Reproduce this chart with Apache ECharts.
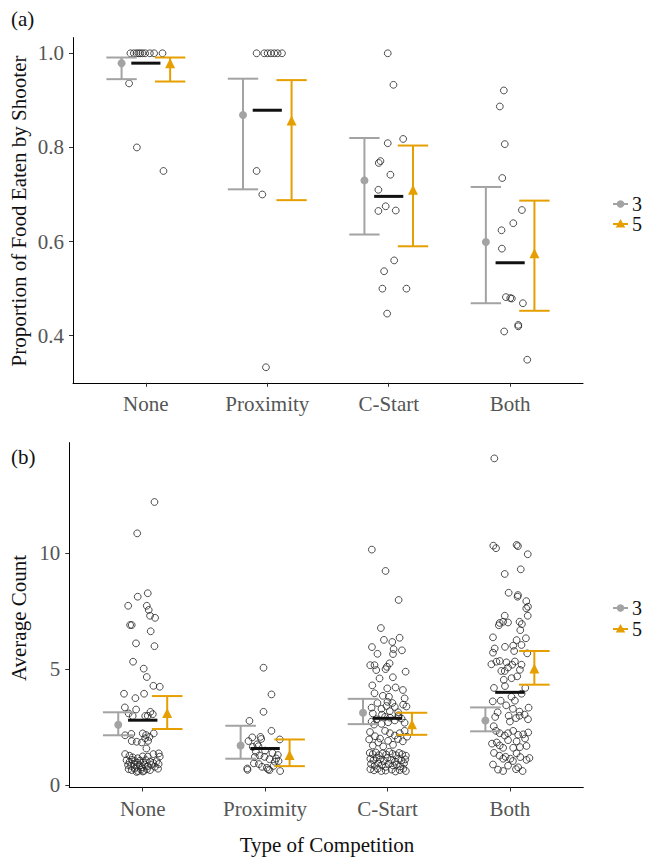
<!DOCTYPE html>
<html><head><meta charset="utf-8">
<script src="https://cdn.jsdelivr.net/npm/echarts@6/dist/echarts.min.js"></script>
<style>html,body{margin:0;padding:0;background:#fff}#c{width:645px;height:857px}
#c text{font-family:'Liberation Serif',serif !important}</style>
</head><body><div id="c"></div>
<script>
// ---------- data ----------
const categories = ['None', 'Proximity', 'C-Start', 'Both'];
const groupNames = ['3', '5'];
const propTicks = [0.4, 0.6, 0.8, 1.0];
const countTicks = [0, 5, 10];
const propTitle = 'Proportion of Food Eaten by Shooter';
const countTitle = 'Average Count';
const xTitle = 'Type of Competition';

// Panel (a): proportion of food eaten by shooter
const propMean3 = [0.979, 0.869, 0.730, 0.599];
const propLow3  = [0.945, 0.711, 0.615, 0.469];
const propHigh3 = [0.991, 0.946, 0.820, 0.716];
const propMean5 = [0.979, 0.857, 0.710, 0.575];
const propLow5  = [0.940, 0.688, 0.590, 0.453];
const propHigh5 = [0.991, 0.943, 0.804, 0.687];
const propMedian = [0.979, 0.879, 0.696, 0.555];
const propPoints = [
  [0.873,1],[0.901,1],[0.923,1],[0.939,1],[0.955,1],[0.972,1],[0.994,1],[1.033,1],[1.068,1],[1.137,1],
  [0.862,0.936],[0.926,0.8],[1.145,0.75],
  [1.912,1],[1.975,1],[2.003,1],[2.030,1],[2.058,1],[2.085,1],[2.121,1],[1.912,0.75],[1.959,0.70],[1.989,0.333],
  [2.992,1.0],[3.039,0.933],[3.119,0.818],[2.992,0.809],[2.932,0.771],[2.918,0.767],[3.014,0.742],[2.915,0.710],
  [2.915,0.665],[2.975,0.675],[3.058,0.666],[3.045,0.560],[2.962,0.537],[2.948,0.500],[3.146,0.500],[2.987,0.447],
  [3.948,0.921],[3.915,0.887],[3.956,0.807],[3.935,0.735],[4.097,0.667],[4.026,0.639],[3.929,0.624],[3.932,0.585],
  [3.965,0.482],[4.001,0.480],[4.014,0.479],[4.105,0.469],[4.067,0.423],[4.067,0.420],[3.951,0.409],[4.141,0.349]
];

// Panel (b): average count
const countMean3 = [2.61, 1.72, 3.13, 2.80];
const countLow3  = [2.16, 1.15, 2.64, 2.33];
const countHigh3 = [3.15, 2.57, 3.73, 3.36];
const countMean5 = [3.12, 1.31, 2.64, 5.04];
const countLow5  = [2.43, 0.83, 2.18, 4.34];
const countHigh5 = [3.85, 1.98, 3.13, 5.79];
const countMedian = [2.81, 1.59, 2.89, 4.01];
const countNone = [
  [1.096,12.21],[0.955,10.86],[1.041,8.28],[0.959,8.13],[0.881,7.74],[1.033,7.74],[1.049,7.56],[1.060,7.31],[1.101,7.22],
  [0.897,6.91],[0.910,6.91],[1.065,6.64],[0.945,6.12],[1.096,6.00],[0.921,5.33],[1.008,5.03],[1.033,4.67],[1.087,4.29],
  [1.139,4.25],[0.847,3.95],[1.011,3.95],[0.940,3.76],[0.854,3.36],[0.946,3.27],[0.885,3.10],[0.918,2.99],[1.063,3.17],
  [1.082,3.07],[1.041,3.00],[1.020,2.99],
  [0.856,2.16],[0.907,2.22],[1.000,2.24],[1.027,2.17],[1.090,2.24],[1.055,2.09],[1.020,2.03],[0.910,1.91],[0.951,1.88],
  [0.992,1.85],[1.044,1.92],[1.030,1.59],
  [0.856,1.35],[0.891,1.28],[0.918,1.21],[0.959,1.17],[1.000,1.25],[1.041,1.24],[1.087,1.35],[1.131,1.38],[1.139,1.24],
  [0.868,1.08],[0.893,1.02],[0.912,1.10],[0.935,1.05],[0.958,0.98],[0.980,1.07],[1.003,1.00],[1.025,1.09],[1.060,1.03],
  [1.085,0.97],[1.115,1.05],[1.130,0.92],[0.880,0.88],[0.905,0.84],[0.930,0.90],[0.950,0.80],[0.975,0.86],[0.995,0.78],
  [1.015,0.90],[1.040,0.83],[1.070,0.88],[1.100,0.80],[0.885,0.70],[0.910,0.66],[0.935,0.72],[0.960,0.62],[0.985,0.68],
  [1.010,0.63],[1.035,0.70],[1.060,0.66],[1.125,0.72],[1.000,0.60],[0.950,0.58]
];
const countProximity = [
  [1.987,5.07],[2.052,3.92],[1.987,3.17],[1.872,2.78],[2.052,2.35],[1.895,2.07],[1.962,2.09],[1.864,1.91],[1.935,1.77],
  [1.968,2.00],[2.120,1.98],[1.899,1.66],[1.946,1.69],[1.925,1.45],[2.000,1.50],[2.060,1.40],
  [1.916,1.23],[1.954,1.29],[1.995,1.23],[2.036,1.13],[2.104,1.31],[2.091,1.16],[2.079,1.02],[2.110,1.05],[1.975,0.80],
  [1.908,0.95],[1.949,0.92],[1.854,0.73],[1.856,0.67],[2.014,0.76],[2.036,0.66],[2.025,0.69],[2.069,0.84],[2.123,0.62]
];
const countCStart = [
  [2.872,10.16],[2.984,9.24],[3.091,7.99],[2.946,6.78],[2.971,6.27],[3.039,6.18],[3.099,6.36],[2.873,5.96],[2.918,5.67],
  [3.050,5.87],[3.045,5.66],[3.118,5.82],
  [2.859,5.18],[2.894,5.18],[2.908,4.97],[2.935,4.61],[2.984,5.01],[2.995,5.11],[3.017,5.26],[3.044,4.66],[3.148,4.90],
  [2.876,4.31],[2.894,3.97],[2.998,4.18],[3.012,3.82],[3.066,4.22],[3.126,4.11],[3.140,3.75],[2.962,3.86],
  [2.918,3.55],[2.951,3.30],[2.992,3.42],[3.019,3.20],[3.060,3.38],[3.087,3.15],[3.128,3.48],[3.155,3.40],[2.880,3.10],
  [2.955,3.05],[3.090,3.02],[2.870,3.35],[3.000,3.60],[3.040,3.55],
  [2.870,2.75],[2.910,2.85],[2.951,2.65],[3.005,2.72],[3.060,2.80],[3.115,2.88],[3.020,2.92],[3.090,2.95],[2.980,2.95],
  [2.890,2.62],[3.140,2.70],
  [2.857,2.30],[2.898,2.12],[2.939,2.02],[2.980,2.35],[3.020,2.25],[3.060,2.15],[3.100,2.25],[3.140,2.35],[2.850,1.98],
  [2.925,1.85],[3.005,1.92],[3.085,2.00],[3.125,1.90],[2.965,1.68],[3.045,1.75],[2.880,1.72],[3.160,2.10],
  [2.855,1.40],[2.880,1.35],[2.905,1.42],[2.930,1.30],[2.960,1.38],[2.990,1.33],[3.015,1.45],[3.040,1.36],[3.070,1.30],
  [3.095,1.40],[3.120,1.34],[3.150,1.28],
  [2.860,1.15],[2.885,1.08],[2.910,1.20],[2.940,1.12],[2.970,1.05],[3.000,1.18],[3.030,1.10],[3.060,1.02],[3.090,1.15],
  [3.115,1.07],[3.145,1.12],
  [2.865,0.92],[2.895,0.85],[2.925,0.95],[2.955,0.88],[2.985,0.80],[3.010,0.93],[3.045,0.86],[3.075,0.90],[3.105,0.82],
  [3.135,0.95],
  [2.860,0.70],[2.890,0.65],[2.920,0.72],[2.950,0.62],[3.035,0.68],[3.065,0.60],[3.100,0.66],[3.130,0.72],[3.150,0.62],
  [2.985,0.64]
];
const countBoth = [
  [3.873,14.09],[3.865,10.33],[3.887,10.22],[4.055,10.36],[4.066,10.31],[4.146,9.96],[3.958,9.11],[4.089,9.31],[3.990,8.30],
  [4.066,8.20],[4.063,8.13],[4.134,7.94],[4.148,7.70],[4.134,7.63],[3.958,7.31],[4.146,7.31],
  [3.917,7.00],[3.945,7.05],[3.985,7.02],[3.910,6.90],[4.079,7.05],[4.098,6.95],[4.085,6.69],[3.862,6.38],
  [3.960,5.97],[4.027,6.02],[4.055,6.26],[4.131,6.34],[4.035,5.79],[4.095,6.05],[4.142,5.69],
  [3.876,5.90],[3.862,5.72],[3.917,5.36],[3.890,5.33],[3.849,5.22],
  [3.972,5.30],[4.019,5.20],[4.041,5.34],[4.082,4.98],[4.060,4.70],[4.014,4.62],[3.958,4.93],[3.930,4.93],[3.985,5.08],[4.095,5.20],
  [3.950,4.55],[3.870,4.20],[3.960,4.28],[3.925,3.65],[4.013,3.82],[4.041,3.65],[4.096,3.95],[4.126,4.20],
  [3.860,3.62],[3.970,3.45],[4.025,3.30],[4.153,3.35],[4.079,3.18],[4.120,3.05],[4.148,2.85],[3.990,3.00],[3.900,3.15],
  [3.880,2.95],[4.000,2.75],[4.050,2.90],[4.079,3.00],
  [3.868,2.55],[3.887,2.35],[3.917,2.25],[3.985,2.25],[4.027,2.35],[4.068,2.18],[4.109,2.20],[4.150,2.28],[3.958,2.15],
  [3.854,1.80],[3.893,1.85],[3.917,1.72],[3.985,1.95],[4.055,1.90],[4.124,2.02],[3.945,1.62],[4.027,1.62],[4.082,1.65],[4.136,1.70],
  [3.870,1.40],[3.915,1.28],[3.965,1.23],[4.005,1.15],[4.055,1.38],[4.085,1.22],[4.136,1.10],[4.160,1.18],[3.945,1.15],[4.025,1.05],
  [3.862,0.90],[3.903,0.68],[3.945,0.62],[3.985,0.85],[4.068,0.78],[4.104,0.62],[4.050,0.70]
];

// ---------- styling ----------
const FONT = 'Liberation Serif';
const FONT21 = "21px 'Liberation Serif', serif";
const FONT20 = "20px 'Liberation Serif', serif";
const GREY = '#a3a3a3';
const ORANGE = '#E69F00';
const DODGE = 0.2, CAP = 0.125, MED = 0.12;

const chart = echarts.init(document.getElementById('c'), null, {renderer: 'svg'});

function errorBars(name, gi, means, lows, highs, offset, color) {
  return {
    type: 'custom', name: name, xAxisIndex: gi, yAxisIndex: gi, z: 3, silent: true,
    data: means.map((m, i) => [i + 1 + offset, lows[i], highs[i]]),
    encode: {x: 0, y: [1, 2]},
    renderItem: function (params, api) {
      const x = api.value(0);
      const pLo = api.coord([x, api.value(1)]);
      const pHi = api.coord([x, api.value(2)]);
      const hw = (api.coord([x + CAP, api.value(1)])[0] - api.coord([x - CAP, api.value(1)])[0]) / 2;
      const st = {stroke: color, lineWidth: 2, fill: null};
      return {type: 'group', children: [
        {type: 'line', shape: {x1: pLo[0], y1: pLo[1], x2: pHi[0], y2: pHi[1]}, style: st},
        {type: 'line', shape: {x1: pLo[0] - hw, y1: pLo[1], x2: pLo[0] + hw, y2: pLo[1]}, style: st},
        {type: 'line', shape: {x1: pHi[0] - hw, y1: pHi[1], x2: pHi[0] + hw, y2: pHi[1]}, style: st}
      ]};
    }
  };
}
function medians(gi, vals) {
  return {
    type: 'custom', name: 'median', xAxisIndex: gi, yAxisIndex: gi, z: 2, silent: true,
    data: vals.map((v, i) => [i + 1, v]),
    encode: {x: 0, y: 1},
    renderItem: function (params, api) {
      const x = api.value(0), y = api.value(1);
      const pL = api.coord([x - MED, y]), pR = api.coord([x + MED, y]);
      return {type: 'line', shape: {x1: pL[0], y1: pL[1], x2: pR[0], y2: pR[1]},
        style: {stroke: '#111', lineWidth: 3}};
    }
  };
}
function meanPoints(name, gi, means, offset, color, symbol, size) {
  return {
    type: 'scatter', name: name, xAxisIndex: gi, yAxisIndex: gi, z: 4, silent: true,
    symbol: symbol, symbolSize: size, itemStyle: {color: color, opacity: 1},
    data: means.map((m, i) => [i + 1 + offset, m])
  };
}
function rawPoints(gi, pts) {
  return {
    type: 'scatter', name: 'raw', xAxisIndex: gi, yAxisIndex: gi, z: 1, silent: true,
    symbol: 'circle', symbolSize: 6.8,
    itemStyle: {color: 'rgba(255,255,255,0)', borderColor: '#222', borderWidth: 0.8, opacity: 1},
    data: pts
  };
}

function xAxisDef(gi) {
  return {
    type: 'value', gridIndex: gi, min: 0.4, max: 4.6,
    splitLine: {show: false},
    axisLine: {onZero: false, lineStyle: {color: '#000', width: 1}},
    axisTick: {show: true, length: 4, lineStyle: {color: '#333'}, customValues: [1, 2, 3, 4]},
    axisLabel: {customValues: [1, 2, 3, 4], formatter: v => categories[Math.round(v) - 1] || '',
      color: '#555', fontFamily: FONT, fontSize: 21, margin: 11}
  };
}
function yAxisDef(gi, min, max, ticks, digits) {
  return {
    type: 'value', gridIndex: gi, min: min, max: max,
    splitLine: {show: false},
    axisLine: {show: true, onZero: false, lineStyle: {color: '#000', width: 1}},
    axisTick: {show: true, length: 4, lineStyle: {color: '#333'}, customValues: ticks},
    axisLabel: {customValues: ticks, formatter: v => v.toFixed(digits),
      color: '#555', fontFamily: FONT, fontSize: 21, margin: 9}
  };
}

function txt(text, x, y, opts) {
  return Object.assign({
    type: 'text', x: x, y: y, silent: true,
    style: {text: text, font: FONT21, fill: '#111', align: 'center', verticalAlign: 'middle'}
  }, opts || {});
}
function legendKey(y, label, color, shape) {
  const kids = [
    {type: 'line', shape: {x1: 613, y1: y, x2: 628, y2: y}, style: {stroke: color, lineWidth: 2}},
    shape === 'circle'
      ? {type: 'circle', shape: {cx: 620.5, cy: y, r: 3.8}, style: {fill: color}}
      : {type: 'polygon', shape: {points: [[620.5, y - 5], [625.3, y + 3.5], [615.7, y + 3.5]]}, style: {fill: color}},
    {type: 'text', x: 632, y: y, style: {text: label, font: FONT20, fill: '#111', align: 'left', verticalAlign: 'middle'}}
  ];
  return {type: 'group', silent: true, children: kids};
}

const option = {
  animation: false,
  backgroundColor: '#fff',
  textStyle: {fontFamily: FONT},
  title: [
    {text: '(a)', left: 11, top: 8, padding: 0, textStyle: {fontFamily: FONT, fontSize: 21, fontWeight: 'normal', color: '#111'}},
    {text: '(b)', left: 11, top: 446, padding: 0, textStyle: {fontFamily: FONT, fontSize: 21, fontWeight: 'normal', color: '#111'}}
  ],
  graphic: [
    txt(propTitle, 19, 211, {rotation: Math.PI / 2}),
    txt(countTitle, 19, 618, {rotation: Math.PI / 2}),
    txt(xTitle, 327, 845),
    legendKey(204, groupNames[0], GREY, 'circle'),
    legendKey(224, groupNames[1], ORANGE, 'triangle'),
    legendKey(608, groupNames[0], GREY, 'circle'),
    legendKey(629, groupNames[1], ORANGE, 'triangle')
  ],
  grid: [
    {left: 73, top: 37.6, width: 510, height: 345.2},
    {left: 69.3, top: 442.6, width: 514, height: 344.9}
  ],
  xAxis: [xAxisDef(0), xAxisDef(1)],
  yAxis: [
    yAxisDef(0, 0.3, 1.0333, propTicks, 1),
    yAxisDef(1, -0.09, 14.77, countTicks, 0)
  ],
  series: [
    rawPoints(0, propPoints),
    medians(0, propMedian),
    errorBars('err3', 0, propMean3, propLow3, propHigh3, -DODGE, GREY),
    errorBars('err5', 0, propMean5, propLow5, propHigh5, DODGE, ORANGE),
    meanPoints(groupNames[0], 0, propMean3, -DODGE, GREY, 'circle', 8),
    meanPoints(groupNames[1], 0, propMean5, DODGE, ORANGE, 'triangle', 10),
    rawPoints(1, countNone.concat(countProximity, countCStart, countBoth)),
    medians(1, countMedian),
    errorBars('err3b', 1, countMean3, countLow3, countHigh3, -DODGE, GREY),
    errorBars('err5b', 1, countMean5, countLow5, countHigh5, DODGE, ORANGE),
    meanPoints(groupNames[0], 1, countMean3, -DODGE, GREY, 'circle', 8),
    meanPoints(groupNames[1], 1, countMean5, DODGE, ORANGE, 'triangle', 10)
  ]
};
chart.setOption(option);
</script>
</body></html>
